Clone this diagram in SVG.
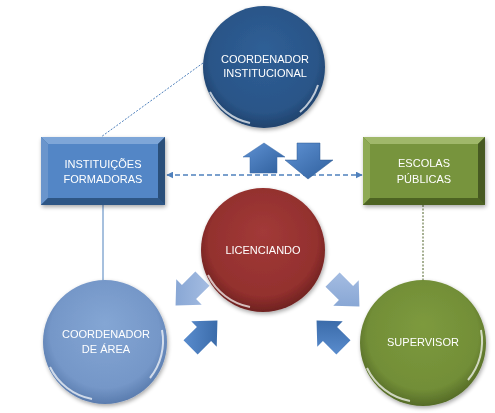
<svg xmlns="http://www.w3.org/2000/svg" width="495" height="413" viewBox="0 0 495 413">
<defs>
<radialGradient id="gTop" cx="0.5" cy="0.45" r="0.55" fx="0.5" fy="0.35">
<stop offset="0" stop-color="#2f5f96"/><stop offset="0.8" stop-color="#2a5588"/><stop offset="1" stop-color="#1f426c"/>
</radialGradient>
<radialGradient id="gRed" cx="0.5" cy="0.45" r="0.55" fx="0.5" fy="0.35">
<stop offset="0" stop-color="#a23a38"/><stop offset="0.8" stop-color="#93302e"/><stop offset="1" stop-color="#6e2220"/>
</radialGradient>
<radialGradient id="gLight" cx="0.5" cy="0.45" r="0.55" fx="0.5" fy="0.35">
<stop offset="0" stop-color="#84a6d4"/><stop offset="0.8" stop-color="#7597c8"/><stop offset="1" stop-color="#5a7cae"/>
</radialGradient>
<radialGradient id="gGreen" cx="0.5" cy="0.45" r="0.55" fx="0.5" fy="0.35">
<stop offset="0" stop-color="#7d9a3e"/><stop offset="0.8" stop-color="#728e37"/><stop offset="1" stop-color="#556b27"/>
</radialGradient>
<linearGradient id="gArrLight" x1="0" y1="0" x2="1" y2="1">
<stop offset="0" stop-color="#a9c0e4"/><stop offset="1" stop-color="#7e9fd0"/>
</linearGradient>
<linearGradient id="gArrDark" x1="0" y1="0" x2="1" y2="1">
<stop offset="0" stop-color="#5f92d4"/><stop offset="1" stop-color="#2f5f9c"/>
</linearGradient>
<marker id="ah" viewBox="0 0 10 10" refX="9" refY="5" markerWidth="7" markerHeight="7" orient="auto-start-reverse" markerUnits="userSpaceOnUse">
<path d="M0,0 L10,5 L0,10 z" fill="#4f81bd"/>
</marker>
<filter id="sh" x="-20%" y="-20%" width="140%" height="140%">
<feGaussianBlur in="SourceAlpha" stdDeviation="2"/><feOffset dx="1" dy="2"/>
<feComponentTransfer><feFuncA type="linear" slope="0.35"/></feComponentTransfer>
<feMerge><feMergeNode/><feMergeNode in="SourceGraphic"/></feMerge>
</filter>
</defs>
<style>
text{font-family:"Liberation Sans",Arial,sans-serif;font-size:11px;fill:#fff;text-anchor:middle}
.hi{fill:none;stroke:#fff;stroke-opacity:0.7;stroke-width:2}
</style>
<rect width="495" height="413" fill="#fff"/>

<g id="connectors">
<line x1="203" y1="63" x2="101" y2="137" stroke="#4f81bd" stroke-width="1" stroke-dasharray="2,1.5"/>
<line x1="103" y1="205" x2="103" y2="281" stroke="#4f81bd" stroke-width="1"/>
<line x1="423" y1="205" x2="423" y2="281" stroke="#4f6228" stroke-width="1" stroke-dasharray="2,1.5"/>
<line x1="167" y1="175" x2="362" y2="175" stroke="#4f81bd" stroke-width="1.5" stroke-dasharray="5,3" marker-start="url(#ah)" marker-end="url(#ah)"/>
</g>

<g id="coord-inst" filter="url(#sh)">
<circle cx="264" cy="67" r="61" fill="url(#gTop)"/>
<path class="hi" d="M210,92 A58,58 0 0 0 250,123"/>
<path class="hi" d="M318,85 A58,58 0 0 1 300,112" stroke-opacity="0.4"/>
<text x="265" y="63">COORDENADOR</text>
<text x="265" y="77">INSTITUCIONAL</text>
</g>

<g id="inst-form" filter="url(#sh)">
<rect x="41" y="137" width="124" height="68" fill="#3b6aa3"/>
<polygon points="41,137 165,137 158,144 48,144" fill="#7ea6d8"/>
<polygon points="41,137 48,144 48,198 41,205" fill="#6a95cc"/>
<polygon points="41,205 48,198 158,198 165,205" fill="#2f5785"/>
<polygon points="165,137 165,205 158,198 158,144" fill="#2b4f7a"/>
<rect x="48" y="144" width="110" height="54" fill="#5286c6"/>
<text x="103" y="168">INSTITUIÇÕES</text>
<text x="103" y="183">FORMADORAS</text>
</g>

<g id="escolas" filter="url(#sh)">
<rect x="363" y="137" width="122" height="68" fill="#5f7a2d"/>
<polygon points="363,137 485,137 478,144 370,144" fill="#a0b86a"/>
<polygon points="363,137 370,144 370,198 363,205" fill="#8eaa55"/>
<polygon points="363,205 370,198 478,198 485,205" fill="#4d6324"/>
<polygon points="485,137 485,205 478,198 478,144" fill="#465a20"/>
<rect x="370" y="144" width="108" height="54" fill="#77943c"/>
<text x="424" y="167">ESCOLAS</text>
<text x="424" y="183">PÚBLICAS</text>
</g>

<g id="licenciando" filter="url(#sh)">
<circle cx="263" cy="250" r="62" fill="url(#gRed)"/>
<path class="hi" d="M208,275 A59,59 0 0 0 250,307"/>
<text x="263" y="254">LICENCIANDO</text>
</g>

<g id="coord-area" filter="url(#sh)">
<circle cx="105" cy="342" r="62" fill="url(#gLight)"/>
<path class="hi" d="M50,367 A59,59 0 0 0 92,399"/>
<path class="hi" d="M162,330 A59,59 0 0 1 150,378" stroke-opacity="0.4"/>
<text x="106" y="338">COORDENADOR</text>
<text x="106" y="353">DE ÁREA</text>
</g>

<g id="supervisor" filter="url(#sh)">
<circle cx="423" cy="343" r="63" fill="url(#gGreen)"/>
<path class="hi" d="M367,368 A60,60 0 0 0 410,401"/>
<path class="hi" d="M481,330 A60,60 0 0 1 468,380" stroke-opacity="0.4"/>
<text x="423" y="346">SUPERVISOR</text>
</g>

<g id="arrows">
<polygon points="250,173 277,173 277,157 285,157 264,143 243,157 250,157" fill="url(#gArrDark)" stroke="#3a6aa8" stroke-width="0.5"/>
<polygon points="297,143 320,143 320,160 333,160 308,179 285,160 297,160" fill="url(#gArrDark)" stroke="#2e5a92" stroke-width="0.5"/>
<g transform="translate(189,292) rotate(135)">
<polygon points="-19,-10 0,-10 0,-18 19,0 0,18 0,10 -19,10" fill="url(#gArrLight)"/>
</g>
<g transform="translate(204,334) rotate(-45)">
<polygon points="-19,-10 0,-10 0,-18 19,0 0,18 0,10 -19,10" fill="url(#gArrDark)"/>
</g>
<g transform="translate(346,293) rotate(45)">
<polygon points="-19,-10 0,-10 0,-18 19,0 0,18 0,10 -19,10" fill="url(#gArrLight)"/>
</g>
<g transform="translate(330,334) rotate(-135)">
<polygon points="-19,-10 0,-10 0,-18 19,0 0,18 0,10 -19,10" fill="url(#gArrDark)"/>
</g>
</g>
</svg>
